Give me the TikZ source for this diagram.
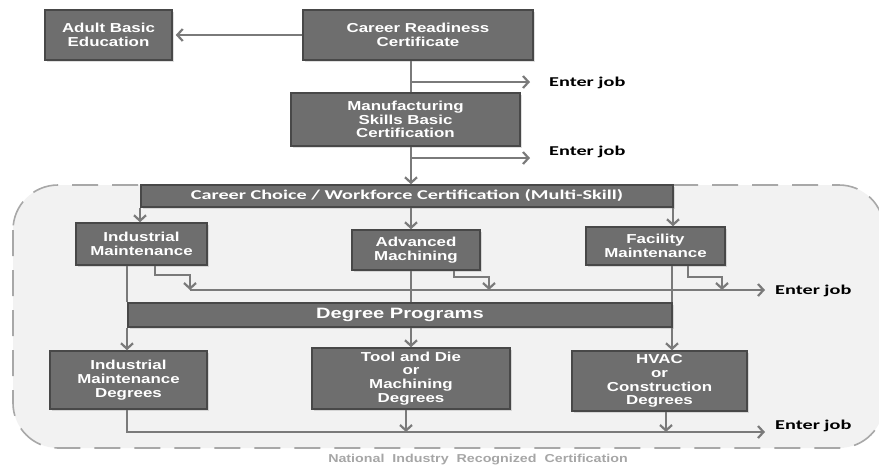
\documentclass[tikz,border=0pt]{standalone}
\usepackage{fontspec}
\usetikzlibrary{arrows.meta,shadows}
\newfontfamily\bxf{Liberation Sans}[FakeStretch=1.3]
\newfontfamily\dpf{Liberation Sans}[FakeStretch=1.34]
\newfontfamily\cbf{Carlito}[FakeStretch=1.5]
\newfontfamily\ccf{Carlito}[FakeStretch=1.5]
\newfontfamily\ntf{Liberation Sans}[FakeStretch=1.24]
\definecolor{boxfill}{HTML}{6E6E6E}
\definecolor{boxline}{HTML}{484848}
\definecolor{conn}{HTML}{7A7A7A}
\definecolor{regfill}{HTML}{F2F2F2}
\definecolor{regline}{HTML}{A8A8A8}
\definecolor{nattext}{HTML}{A6A6A6}
\tikzset{
  boxnode/.style={draw=boxline, line width=1.5pt, fill=boxfill, text=white, align=center,
    inner sep=0pt, font=\bxf\bfseries\fontsize{13}{13.8}\selectfont,
    drop shadow={opacity=0.25, shadow xshift=1.5pt, shadow yshift=-1.5pt}},
  conline/.style={draw=conn, line width=2.2pt},
  conarr/.style={conline, -{Straight Barb[length=5.5pt, width=12pt, line width=2.2pt]}},
  jobtext/.style={anchor=west, inner sep=0pt, font=\cbf\bfseries\fontsize{13.5}{15}\selectfont},
}
\begin{document}
\begin{tikzpicture}[x=1pt,y=-1pt]
\useasboundingbox (0,0) rectangle (879,467);
% region
\draw[regline, fill=regfill, line width=1.6pt, dash pattern=on 26pt off 14pt, rounded corners=45pt]
  (13,185) rectangle (884,448);
\node[font=\ntf\bfseries\fontsize{11.5}{13}\selectfont, text=nattext, inner sep=0pt] (nat) at (478,460)
  {National\ \ Industry\ \ Recognized\ \ Certification};

% boxes
\node[boxnode, minimum width=127pt, minimum height=50pt] (abe) at (108.5,35) {Adult Basic\\Education};
\node[boxnode, minimum width=230pt, minimum height=50pt] (crc) at (418,35) {Career Readiness\\Certificate};
\node[boxnode, minimum width=229pt, minimum height=53pt] (msbc) at (405.5,119.5) {Manufacturing\\Skills Basic\\Certification};
\node[boxnode, minimum width=532pt, minimum height=22pt, font=\ccf\bfseries\fontsize{13.5}{15}\selectfont] (ccwc) at (407,196)
  {Career Choice / Workforce Certification (Multi-Skill)};
\node[boxnode, minimum width=131pt, minimum height=42pt] (im) at (141.5,244) {Industrial\\Maintenance};
\node[boxnode, minimum width=128pt, minimum height=40pt] (am) at (416,250) {Advanced\\Machining};
\node[boxnode, minimum width=139pt, minimum height=38pt] (fm) at (655.5,246) {Facility\\Maintenance};
\node[boxnode, minimum width=544pt, minimum height=24pt, font=\dpf\bfseries\fontsize{15}{17}\selectfont] (dp) at (400,315) {Degree Programs};
\node[boxnode, minimum width=157pt, minimum height=58pt] (imd) at (128.5,380) {Industrial\\Maintenance\\Degrees};
\node[boxnode, minimum width=198pt, minimum height=61pt] (tdmd) at (411,378.5) {Tool and Die\\or\\Machining\\Degrees};
\node[boxnode, minimum width=175pt, minimum height=60pt] (hvac) at (659.5,381) {HVAC\\or\\Construction\\Degrees};

% enter job labels
\node[jobtext] (ej1) at (549,83) {Enter job};
\node[jobtext] (ej2) at (549,152) {Enter job};
\node[jobtext] (ej3) at (775,291) {Enter job};
\node[jobtext] (ej4) at (775,426) {Enter job};

% helper coordinates
\coordinate (xa) at (411,0);
\coordinate (xl) at (140,0);
\coordinate (xr) at (673,0);
\coordinate (xb) at (127,0);
\coordinate (xc) at (672,0);
\coordinate (y1) at (0,82);
\coordinate (y2) at (0,158);
\coordinate (y3) at (0,290);
\coordinate (y4) at (0,432);

% top connectors
\draw[conarr, shorten >=3pt] (crc.west) -- (abe.east);
\draw[conline] (crc.south -| xa) -- (msbc.north -| xa);
\draw[conarr] (xa |- y1) -- ([xshift=-19pt]ej1.west |- y1);
\draw[conarr] (msbc.south -| xa) -- (ccwc.north -| xa);
\draw[conarr] (xa |- y2) -- ([xshift=-19pt]ej2.west |- y2);

% ccwc to skills
\draw[conarr] (ccwc.south -| xl) -- (im.north -| xl);
\draw[conarr] (ccwc.south -| xa) -- (am.north -| xa);
\draw[conarr] (ccwc.south -| xr) -- (fm.north -| xr);

% skills to degree programs
\draw[conline] (im.south -| xb) -- (dp.north -| xb);
\draw[conline] (am.south -| xa) -- (dp.north -| xa);
\draw[conline] (fm.south -| xc) -- (dp.north -| xc);

% jobs line (middle)
\draw[conarr] (190,290) -- ([xshift=-10pt]ej3.west |- y3);
\draw[conarr] (im.south -| 155,0) -- (155,275) -- (190,275) -- (190,290);
\draw[conarr] (am.south -| 454,0) -- (454,277) -- (489,277) -- (489,290);
\draw[conarr] (fm.south -| 688,0) -- (688,277) -- (722,277) -- (722,290);

% degree programs to degrees
\draw[conarr] (dp.south -| xb) -- (imd.north -| xb);
\draw[conarr] (dp.south -| xa) -- (tdmd.north -| xa);
\draw[conarr] (dp.south -| xc) -- (hvac.north -| xc);

% bottom jobs line
\draw[conarr] (imd.south -| xb) -- (xb |- y4) -- ([xshift=-10pt]ej4.west |- y4);
\draw[conarr] (tdmd.south -| 406,0) -- (406,432);
\draw[conarr] (hvac.south -| 666,0) -- (666,432);
\end{tikzpicture}
\end{document}
